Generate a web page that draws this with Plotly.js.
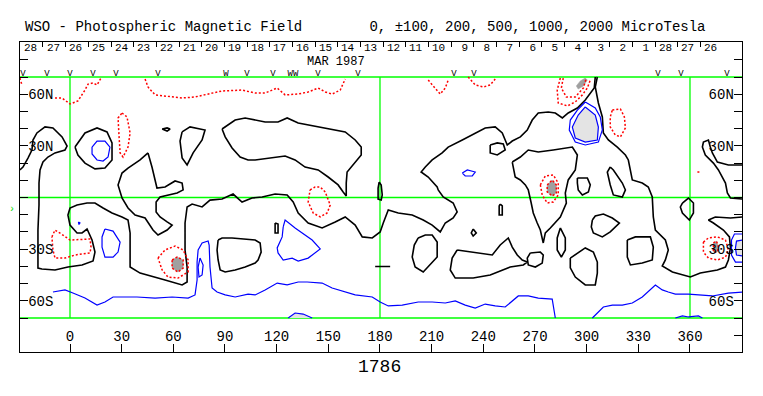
<!DOCTYPE html>
<html><head><meta charset="utf-8">
<script src="https://cdn.plot.ly/plotly-3.0.1.min.js"></script>
<style>html,body{margin:0;padding:0;background:#fff}</style>
</head><body><div id="chart" style="width:763px;height:396px"></div>
<script>
// ---------- tick / label data ----------
const lonTicks = [0,30,60,90,120,150,180,210,240,270,300,330,360];
const latTicks = [-80,-70,-60,-50,-40,-30,-20,-10,0,10,20,30,40,50,60,70,80];
const latLabels = ['','','60S','','','30S','','','','','','30N','','','60N','',''];
const dayLabels = ['28','27','26','25','24','23','22','21','20','19','18','17','16','15','14','13','12','11','10','9','8','7','6','5','4','3','2','1','28','27','26'];
const obsLon = [-27.3,-13.4,0,13.4,26.7,51.1,90.5,102.8,117.9,129.5,144.0,167.2,223.0,234.6,341.4,354.8,381.5];
const obsMark = ['V','V','V','V','V','V','W','V','V','WW','V','V','V','V','V','V','V'];
const rotationNumber = '1786';
const monthLabel = 'MAR 1987';

// ---------- neutral (zero) lines ----------
const zeroA = [[-29.1,16.0],[-27.3,17.7],[-24.4,22.9],[-22.1,27.6],[-21.5,33.4],[-19.2,37.5],[-14.5,41.0],[-9.9,40.4],[-4.6,35.2],[-1.7,29.9],[-2.9,27.6],[-8.7,25.9],[-12.8,23.5],[-15.7,20.6],[-17.4,16.0],[-18.0,8.4],[-18.0,-4.4],[-18.6,-18.9],[-18.6,-33.4],[-18.6,-41.0],[-16.3,-41.5],[-8.7,-42.1],[-1.2,-40.4],[7.0,-39.2],[13.4,-36.9],[14.5,-31.7],[12.8,-24.7],[10.5,-20.0],[9.9,-18.3],[7.0,-20.6],[4.1,-20.6],[0,-16.0],[-1.2,-10.2],[0,-6.1],[4.1,-4.4],[9.9,-3.2],[14.5,-3.2],[19.2,-6.1],[24.4,-9.0],[30.2,-11.3],[33.7,-13.1],[34.9,-20.6],[34.9,-40.4],[40.7,-43.9],[47.6,-45.6],[55.2,-47.9],[65.1,-50.8],[68.0,-49.1],[68.0,-40.4],[66.8,-30.5],[66.8,-14.8],[68.0,-5.5],[70.9,-3.8],[76.7,-5.5],[81.3,-1.5],[88.3,-0.9],[94.7,2.0],[99.9,-2.6],[105.7,-0.3],[111.6,0.3],[119.1,2.0],[126.1,1.5],[129.6,-2.6],[132.5,-9.0],[138.3,-14.8],[146.4,-17.7],[154.0,-14.2],[159.8,-11.3],[165.6,-16.0],[169.7,-22.9],[175.5,-23.5],[180.1,-20.0],[181.9,-14.8],[184.8,-7.3],[190.6,-9.0],[198.7,-10.2],[205.1,-13.1],[210.3,-16.0],[215.0,-20.0],[217.9,-14.8],[222.5,-11.9],[224.8,-8.4],[222.5,-3.2],[216.7,0.3],[213.8,4.4],[213.2,6.1],[208.0,11.9],[203.9,14.8],[206.3,17.7],[210.3,21.8],[216.1,25.9],[219.6,29.3],[227.8,33.4],[235.3,37.5],[241.1,40.4],[246.9,41.0],[251.0,37.5],[253.9,30.5],[256.8,32.8],[261.5,35.2],[265.5,39.2],[268.4,45.0],[271.9,49.1],[277.7,49.7],[281.8,49.1],[285.9,46.2],[289.3,49.1],[294.6,52.0],[299.2,56.6],[304.4,63.6],[305.0,70.0]];
const zeroB = [[306.2,70.0],[305.0,64.2],[306.8,54.9],[309.1,46.8],[309.7,37.5],[312.6,33.4],[317.8,29.3],[322.5,24.7],[324.2,21.8],[325.4,16.0],[326.5,10.2],[332.3,8.4],[335.8,6.1],[338.1,0.3],[338.7,-11.3],[339.9,-18.9],[345.7,-24.7],[347.4,-30.5],[345.7,-36.3],[343.9,-39.8],[349.8,-43.3],[360.2,-46.2],[366.0,-43.9],[375.9,-42.1],[380.6,-40.4],[382.3,-36.3],[383.5,-29.3],[382.9,-22.9],[379.4,-18.9],[373.6,-14.8],[370.7,-13.1],[374.7,-11.3],[383.5,-11.9],[390.4,-11.3]];
const zeroH = [[390.4,18.9],[382.3,18.9],[375.9,20.6],[373.0,25.9],[371.8,29.3],[370.7,33.4],[367.8,32.2],[367.2,29.3],[368.9,24.7],[373.6,20.0],[376.5,16.0],[378.8,11.9],[380.6,8.4],[381.7,2.6],[383.5,-0.3],[390.4,-0.9]];
const zero360 = [[355.6,-3.2],[359.1,-0.3],[362.0,-3.2],[362.0,-9.0],[359.6,-13.1],[355.6,-9.0],[354.4,-5.5],[355.6,-3.2]];
const zeroL1 = [[2.9,29.3],[8.7,37.5],[15.7,40.4],[21.5,38.1],[24.4,31.7],[24.4,21.8],[20.3,17.1],[14.5,16.6],[8.7,20.0],[4.6,24.7],[2.9,29.3]];
const zeroOval = [[53.5,39.8],[56.4,40.4],[58.1,39.8],[56.4,38.6],[53.5,39.8]];
const zeroL2 = [[65.1,38.1],[69.7,41.0],[78.4,39.2],[76.7,33.4],[71.5,25.9],[68.0,18.9],[65.1,23.0],[63.9,32.8],[65.1,38.1]];
const zeroC = [[88.3,39.8],[95.9,45.0],[101.7,46.2],[107.5,45.0],[113.3,43.9],[120.8,43.9],[126.1,46.2],[132.5,43.3],[139.4,42.1],[148.2,40.4],[154.0,39.2],[159.8,38.1],[165.6,33.4],[169.1,29.3],[169.1,24.7],[165.6,20.6],[162.7,17.1],[160.9,14.8],[160.4,8.4],[160.4,0.9],[158.6,3.2],[155.7,7.3],[149.9,11.9],[144.1,16.0],[136.5,17.7],[130.7,21.8],[124.9,24.1],[115.0,22.9],[107.5,21.8],[103.4,21.8],[98.8,23.5],[94.1,28.8],[90.1,35.2],[88.3,39.8]];
const zeroD = [[45.3,25.9],[47.6,17.7],[50.5,5.5],[55.2,6.1],[61.0,9.6],[65.1,8.4],[65.7,4.4],[62.2,2.6],[52.3,0.3],[50.0,-2.6],[50.0,-8.4],[52.3,-11.3],[56.4,-14.2],[59.3,-16.0],[56.4,-18.9],[51.1,-21.8],[48.2,-18.9],[43.6,-11.9],[37.8,-10.2],[33.7,-6.1],[30.2,-0.3],[27.9,7.3],[30.2,14.2],[33.7,17.1],[40.7,21.8],[45.3,25.9]];
const zeroC2 = [[86.0,-24.7],[88.3,-23.5],[94.1,-23.5],[100.5,-24.1],[107.5,-24.7],[110.4,-26.4],[111.0,-31.7],[109.2,-36.3],[107.5,-38.1],[101.7,-40.4],[95.9,-42.1],[90.1,-43.3],[87.2,-42.1],[86.0,-36.3],[85.4,-30.5],[86.0,-24.7]];
const zeroThin120 = [[119.1,-14.8],[120.8,-15.4],[120.8,-20.6],[119.1,-20.6],[119.1,-14.8]];
const zeroThin180 = [[179.5,9.0],[180.7,7.3],[181.3,1.5],[180.7,-1.5],[178.9,-0.9],[178.9,5.5],[179.5,9.0]];
const zeroDash180 = [[177.2,-40.1],[185.9,-40.1],[185.9,-40.5],[177.2,-40.5],[177.2,-40.1]];
const zero210 = [[202.2,-23.5],[206.3,-21.8],[210.3,-21.8],[213.2,-25.9],[213.2,-34.6],[208.0,-40.4],[205.1,-43.3],[200.4,-40.4],[198.7,-34.6],[199.9,-27.6],[202.2,-23.5]];
const zeroDiamond = [[234.1,-18.3],[235.9,-20.6],[234.1,-22.4],[233.0,-20.6],[234.1,-18.3]];
const zeroThin250 = [[249.8,-3.8],[251.0,-4.9],[251.0,-10.2],[249.2,-10.2],[249.2,-4.9],[249.8,-3.8]];
const zeroSmall248 = [[244.0,30.5],[248.1,31.7],[251.6,31.1],[252.7,27.6],[248.1,24.7],[244.0,25.9],[244.0,30.5]];
const zeroE = [[224.8,-30.5],[233.6,-31.7],[245.2,-33.4],[249.8,-27.6],[254.5,-23.5],[256.8,-28.8],[259.7,-33.4],[262.6,-36.3],[265.5,-37.5],[263.2,-39.2],[255.6,-40.4],[244.0,-45.0],[234.1,-46.8],[223.7,-46.8],[220.8,-42.1],[221.9,-35.2],[224.8,-30.5]];
const zeroF = [[267.3,-32.2],[273.1,-31.7],[274.8,-33.4],[274.2,-38.1],[270.2,-40.4],[266.1,-39.2],[265.5,-35.2],[267.3,-32.2]];
const zeroG = [[256.8,20.6],[261.5,23.5],[266.1,27.6],[271.9,26.4],[280.6,27.6],[291.7,29.3],[294.6,24.7],[293.4,16.0],[289.3,10.2],[287.6,2.6],[288.2,-3.2],[284.7,-11.3],[278.9,-17.7],[276.0,-20.6],[274.8,-26.4],[274.2,-22.9],[273.1,-18.9],[271.3,-14.8],[269.0,-9.0],[267.8,-3.2],[266.1,4.4],[264.4,7.3],[261.5,10.2],[258.5,11.9],[257.4,17.1],[256.8,20.6]];
const zeroNarrow285 = [[284.7,-17.7],[287.6,-23.5],[287.6,-30.5],[285.3,-34.6],[282.9,-30.5],[282.9,-23.5],[284.7,-17.7]];
const zero295S = [[290.5,-35.2],[299.2,-29.3],[303.9,-31.7],[306.2,-37.5],[306.2,-43.9],[305.0,-50.8],[299.2,-50.8],[293.4,-46.2],[290.5,-40.9],[290.5,-35.2]];
const zero310S = [[303.3,-13.1],[305.0,-10.7],[309.7,-9.6],[314.9,-11.9],[319.0,-14.8],[313.7,-20.0],[309.1,-22.9],[303.9,-20.6],[302.7,-17.1],[303.3,-13.1]];
const zero330S = [[323.6,-24.7],[328.3,-22.9],[337.0,-22.9],[338.7,-28.8],[338.1,-36.3],[332.3,-38.1],[325.4,-39.2],[323.6,-34.6],[323.6,-24.7]];
const zero298N = [[294.6,11.3],[300.4,11.3],[302.1,7.3],[301.0,3.2],[297.5,1.5],[295.1,4.4],[294.6,8.4],[294.6,11.3]];
const zero315N = [[313.7,17.7],[315.5,16.0],[320.7,8.4],[322.5,4.4],[320.7,0.3],[315.5,1.5],[313.7,7.3],[312.0,14.8],[313.7,17.7]];

// ---------- positive field (red dotted) ----------
const posTopLeft = [[-29.1,69.4],[-27.9,65.4]];
const pos60Nleft = [[-8.7,57.8],[-4.6,57.8],[0,54.3],[4.6,56.1],[8.7,62.4],[10.5,65.9],[13.4,66.5],[15.7,65.4],[18.0,69.4]];
const pos60Nlong = [[43.6,68.8],[45.3,64.2],[49.4,59.6],[59.3,58.4],[65.1,57.8],[72.6,58.4],[80.2,60.1],[88.3,61.9],[99.9,62.4],[107.5,60.7],[113.3,60.7],[120.3,63.6],[124.9,59.6],[132.5,60.1],[138.3,61.3],[144.1,63.6],[148.2,61.3],[152.2,60.1],[156.9,62.4],[158.6,66.5],[159.8,68.8]];
const pos210N = [[208.0,68.2],[212.1,63.6],[215.0,60.1],[217.9,63.6],[219.6,68.2]];
const pos240N = [[231.2,70.0],[235.3,65.4],[240.0,64.2],[244.0,65.4],[246.9,68.8]];
const pos295Nout = [[284.7,69.4],[282.9,62.4],[283.5,54.9],[288.8,53.2],[293.4,55.5],[297.5,59.6],[300.4,63.6],[302.1,68.2]];
const pos295Nin = [[286.4,69.4],[285.3,63.6],[288.2,58.4],[293.4,58.4],[298.1,63.6],[299.8,69.4]];
const pos295Ncore = [[294.0,64.8],[296.3,67.7],[299.2,69.4],[300.4,68.2],[298.1,64.8],[295.1,63.0],[294.0,64.8]];
const pos318N = [[314.9,50.8],[319.6,51.4],[321.9,46.8],[322.5,40.4],[319.6,35.2],[316.6,36.3],[313.7,41.0],[313.7,46.8],[314.9,50.8]];
const pos30N = [[30.2,49.1],[33.1,46.8],[34.9,37.5],[33.7,29.3],[30.8,23.5],[29.1,25.9],[28.5,35.2],[27.9,46.2],[30.2,49.1]];
const pos145Eq = [[139.4,4.4],[142.3,6.1],[145.3,6.1],[148.2,3.2],[151.1,-4.4],[149.3,-9.0],[145.3,-11.3],[141.2,-9.0],[138.3,-2.6],[139.4,4.4]];
const pos0S = [[-10.5,-22.9],[-8.7,-18.9],[-4.1,-21.8],[0,-24.7],[11.6,-24.1],[12.2,-28.8],[11.6,-32.2],[2.9,-33.4],[-2.9,-35.2],[-8.7,-35.2],[-9.9,-30.5],[-10.5,-22.9]];
const pos60Sout = [[51.1,-35.2],[55.2,-30.5],[61.0,-28.2],[65.7,-30.5],[68.6,-36.3],[68.6,-43.3],[62.7,-46.8],[56.9,-46.2],[53.5,-42.1],[51.1,-35.2]];
const pos60Sin = [[59.3,-36.3],[62.2,-34.6],[65.7,-36.3],[65.7,-41.0],[62.7,-43.3],[59.3,-41.0],[59.3,-36.3]];
const pos280out = [[273.1,7.3],[276.0,12.5],[280.6,13.1],[283.5,8.4],[283.5,1.5],[280.6,-2.6],[277.1,-3.2],[274.2,1.5],[273.1,7.3]];
const pos280in = [[277.1,7.3],[280.0,10.2],[282.4,7.3],[282.4,2.6],[280.0,0.9],[277.1,3.2],[277.1,7.3]];
const pos375out = [[367.8,-25.9],[370.7,-23.5],[375.9,-22.9],[380.6,-24.7],[382.3,-30.5],[380.6,-34.6],[375.9,-36.3],[370.7,-35.2],[367.8,-31.7],[367.8,-25.9]];
const pos375in = [[373.6,-26.4],[375.3,-25.3],[376.5,-28.2],[375.9,-31.7],[373.6,-31.7],[373.6,-26.4]];
const posDot365 = [[364.3,14.8],[366.0,14.8]];

// ---------- negative field (blue) ----------
const neg30N = [[12.8,29.3],[15.7,32.8],[20.3,32.8],[23.2,29.3],[22.1,23.5],[19.2,21.2],[15.7,21.8],[12.8,25.3],[12.8,29.3]];
const neg20S = [[20.3,-18.3],[25.0,-19.5],[29.1,-25.9],[27.9,-31.7],[25.0,-34.6],[20.3,-34.6],[18.6,-28.8],[18.6,-22.9],[20.3,-18.3]];
const negDot5 = [[4.9,-14.2],[5.8,-14.8],[5.2,-15.7],[4.9,-14.2]];
const negNarrow75 = [[75.5,-35.2],[77.3,-39.2],[76.7,-45.0],[74.9,-46.2],[74.4,-40.4],[75.5,-35.2]];
const neg130S = [[123.8,-17.1],[124.9,-13.1],[130.7,-17.7],[134.8,-20.6],[140.6,-24.7],[145.3,-29.9],[138.3,-35.2],[132.5,-36.9],[129.0,-35.2],[123.8,-36.3],[120.8,-32.2],[120.3,-29.3],[123.2,-22.9],[123.8,-17.1]];
const neg230N = [[227.8,14.2],[230.7,16.0],[235.3,14.8],[233.6,12.5],[229.5,12.5],[227.8,14.2]];
const neg300Nout = [[299.2,55.5],[305.0,52.0],[307.9,46.8],[309.1,39.2],[306.8,32.2],[299.2,30.5],[293.4,32.2],[289.9,39.2],[290.5,45.0],[294.6,50.8],[299.2,55.5]];
const neg300Nin = [[299.2,52.6],[305.0,47.9],[306.8,40.9],[306.2,33.4],[299.2,32.2],[293.4,34.6],[291.7,40.9],[295.1,47.9],[299.2,52.6]];
const neg60S = [[-9.9,-54.9],[-2.9,-53.7],[1.7,-55.5],[8.7,-58.4],[15.7,-62.5],[20.3,-60.7],[25.0,-57.8],[30.2,-57.8],[38.9,-57.8],[49.4,-58.4],[59.3,-57.8],[68.6,-58.4],[72.6,-56.6],[73.8,-47.9],[73.8,-37.5],[74.4,-30.5],[76.7,-26.4],[80.2,-25.3],[80.8,-27.6],[81.3,-40.4],[82.5,-52.6],[85.4,-54.9],[90.1,-56.6],[95.9,-57.8],[103.4,-56.1],[107.5,-56.6],[113.3,-53.7],[120.3,-49.7],[126.1,-50.8],[132.5,-49.1],[137.7,-49.1],[146.4,-49.7],[152.2,-52.6],[165.6,-56.6],[175.5,-57.8],[180.1,-60.7],[184.8,-63.0],[192.9,-62.5],[202.2,-60.7],[210.3,-60.7],[217.9,-61.3],[223.7,-60.1],[229.5,-62.5],[235.3,-64.2],[241.1,-61.9],[246.9,-63.0],[252.7,-63.6],[260.3,-57.2],[266.1,-57.2],[271.9,-58.4],[280.0,-59.0],[281.8,-70.0]];
const neg60Sright = [[303.3,-70.0],[309.7,-63.6],[314.9,-62.5],[320.7,-62.5],[326.5,-61.3],[332.3,-57.8],[339.9,-50.8],[343.9,-53.7],[347.4,-54.9],[351.5,-56.1],[359.1,-56.1],[367.2,-56.6],[373.0,-57.2],[382.3,-55.5],[390.4,-54.9]];
const negPole130 = [[126.7,-70.0],[130.7,-67.1],[135.4,-67.7],[140.6,-70.0]];
const negPole360 = [[351.5,-70.0],[355.6,-68.8],[359.1,-69.4],[364.9,-68.8],[367.2,-70.0]];
const negEdgeOut = [[390.4,-21.2],[385.8,-21.2],[384.1,-24.7],[384.1,-33.4],[386.4,-37.5],[390.4,-37.5]];
const negEdgeIn = [[390.4,-24.7],[387.0,-25.3],[386.4,-29.3],[387.0,-33.4],[390.4,-34.0]];

// ---------- build ----------
const X = p => p.map(v => v[0]);
const Y = p => p.map(v => v[1]);
function line(p, color, width, dash) {
  return {type:'scatter', mode:'lines', x:X(p), y:Y(p), hoverinfo:'skip',
          line:{color:color, width:width, dash:dash || 'solid', shape:'linear'}};
}
function fillArea(p, color) {
  return {type:'scatter', mode:'lines', x:X(p), y:Y(p), hoverinfo:'skip',
          fill:'toself', fillcolor:color, line:{color:color, width:0.5}};
}
const DARK = '#a0a0a0', LIGHT = '#e4e4e4';
const traces = [];
[pos295Ncore, pos60Sin, pos280in, pos375in].forEach(p => traces.push(fillArea(p, DARK)));
[neg300Nin, negPole130].forEach(p => traces.push(fillArea(p, LIGHT)));
traces.push(fillArea(negEdgeIn.concat([[390.4,-24.7]]), LIGHT));

const zeroSet = [zeroA, zeroB, zeroH, zero360, zeroL1, zeroOval, zeroL2, zeroC, zeroD, zeroC2, zeroThin120, zeroThin180, zeroDash180, zero210, zeroDiamond, zeroThin250, zeroSmall248, zeroE, zeroF, zeroG, zeroNarrow285, zero295S, zero310S, zero330S, zero298N, zero315N];
zeroSet.forEach(p => traces.push(line(p, '#000000', 1.6)));
const negSet = [neg30N, neg20S, negDot5, negNarrow75, neg130S, neg230N, neg300Nout, neg300Nin, neg60S, neg60Sright, negPole130, negPole360, negEdgeOut, negEdgeIn];
negSet.forEach(p => traces.push(line(p, '#0000ff', 1.2)));
const posSet = [posTopLeft, pos60Nleft, pos60Nlong, pos210N, pos240N, pos295Nout, pos295Nin, pos318N, pos30N, pos145Eq, pos0S, pos60Sout, pos60Sin, pos280out, pos280in, pos375out, pos375in, posDot365];
posSet.forEach(p => traces.push(line(p, '#ff0000', 1.5, '2px,2px')));

// observation marks (V)
traces.push({type:'scatter', mode:'text', x:obsLon, y:obsLon.map(() => 71.8),
  text:obsMark, textposition:'middle center', cliponaxis:false,
  textfont:{family:'Liberation Mono', size:9, color:'#000'}, xaxis:'x2', yaxis:'y2', hoverinfo:'skip'});

const XR = [-29.03, 390.2], YR = [-89.75, 90.33];
const dayTick0 = -15.68, dayWidth = 13.163;
const dayTicks = dayLabels.slice(1).map((d, k) => dayTick0 + k * dayWidth);

const annotations = [];
dayLabels.forEach((d, i) => {
  const left = i === 0 ? XR[0] : dayTicks[i - 1];
  annotations.push({xref:'x', yref:'paper', x:left + 1.0, y:0.981, xanchor:'left', yanchor:'middle',
    text:d.padStart(2, '\u00a0'), showarrow:false, font:{family:'Liberation Mono', size:11, color:'#000'}});
});
annotations.push({xref:'x', yref:'paper', x:154.5, y:0.934, xanchor:'center', yanchor:'middle',
  text:monthLabel, showarrow:false, font:{family:'Liberation Mono', size:12, color:'#000'}});
annotations.push({xref:'x', yref:'paper', x:180, y:-0.048, xanchor:'center', yanchor:'middle',
  text:rotationNumber, showarrow:false, font:{family:'Liberation Mono', size:18, color:'#000'}});
annotations.push({xref:'paper', yref:'paper', x:0.004, y:1.048, xanchor:'left', yanchor:'middle',
  text:'WSO - Photospheric Magnetic Field' + '\u00a0'.repeat(8) + '0, \u00b1100, 200, 500, 1000, 2000 MicroTesla',
  showarrow:false, font:{family:'Liberation Mono', size:14, color:'#000'}});
annotations.push({xref:'paper', yref:'y', x:-0.004, y:-7, xanchor:'right', yanchor:'middle',
  text:'\u203a', showarrow:false, font:{family:'Liberation Mono', size:10, color:'#00dd00'}});

const G = '#00ff00';
const shapes = [
  {type:'line', xref:'paper', yref:'y', x0:0, x1:1, y0:0, y1:0, line:{color:G, width:1.3}, layer:'below'},
  {type:'line', xref:'paper', yref:'y', x0:0, x1:1, y0:70, y1:70, line:{color:G, width:1.3}, layer:'below'},
  {type:'line', xref:'paper', yref:'y', x0:0, x1:1, y0:-70, y1:-70, line:{color:G, width:1.3}, layer:'below'},
];
[0, 180, 360].forEach(v => shapes.push({type:'line', xref:'x', yref:'y', x0:v, x1:v, y0:-70, y1:70, line:{color:G, width:1.3}, layer:'below'}));

const tickFont = {family:'Liberation Mono', size:14, color:'#000'};
const layout = {
  width:763, height:396, margin:{l:20, r:21, t:42, b:44, pad:0},
  paper_bgcolor:'#fff', plot_bgcolor:'#fff', showlegend:false,
  font:{family:'Liberation Mono', color:'#000'},
  xaxis:{range:XR, showgrid:false, zeroline:false, showline:true, mirror:true, linecolor:'#000', linewidth:1,
    tickvals:lonTicks, ticktext:lonTicks.map(String), ticks:'inside', ticklen:8, tickcolor:'#000',
    ticklabelposition:'inside', tickfont:tickFont},
  xaxis2:{range:XR, overlaying:'x', side:'top', anchor:'y2', showgrid:false, zeroline:false, showline:false,
    tickvals:dayTicks, ticks:'inside', ticklen:5, tickcolor:'#000', showticklabels:false},
  yaxis:{range:YR, showgrid:false, zeroline:false, showline:true, mirror:true, linecolor:'#000', linewidth:1,
    tickvals:latTicks, ticktext:latLabels, ticks:'inside', ticklen:8, tickcolor:'#000',
    ticklabelposition:'inside', tickfont:tickFont},
  yaxis2:{range:YR, overlaying:'y', side:'right', anchor:'x2', showgrid:false, zeroline:false, showline:false,
    tickvals:latTicks, ticktext:latLabels, ticks:'inside', ticklen:8, tickcolor:'#000',
    ticklabelposition:'inside', tickfont:tickFont},
  shapes:shapes, annotations:annotations
};
Plotly.newPlot('chart', traces, layout, {displayModeBar:false, staticPlot:true});
</script></body></html>
